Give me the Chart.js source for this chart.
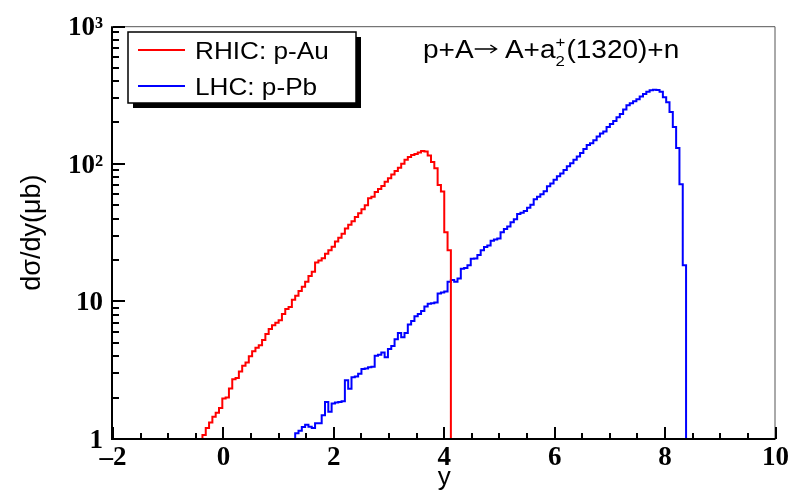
<!DOCTYPE html>
<html lang="en">
<head>
    <meta charset="UTF-8">
    <title>p+A → A+a2(1320)+n rapidity distribution</title>
    <script src="https://cdn.jsdelivr.net/npm/chart.js"></script>
    <style>
        body { margin: 0; background: #fff; }
        .chart-container { position: relative; width: 792px; height: 501px; }
    </style>
</head>
<body>
<div class="chart-container"><canvas id="rapidityChart"></canvas></div>
<script>
    // histogram binning (0.06 wide bins from -2 to 10)
    const binWidth = 0.06;
    const xRange = [-2, 10];
    const yRange = [1, 1000];

    const xTickValues = [-2, 0, 2, 4, 6, 8, 10];
    const xTickLabels = ['\u20132', '0', '2', '4', '6', '8', '10'];
    const yTickValues = [1, 10, 100, 1000];
    const yTickLabels = ['1', '10', '10\u00b2', '10\u00b3'];

    const seriesLabels = ['RHIC: p-Au', 'LHC: p-Pb'];
    const seriesColors = ['#ff0000', '#0000ff'];

    // RHIC p-Au: first non-empty bin starts at y = -0.38
    const rhicStart = -0.38;
    const rhicValues = [
        1.07, 1.2, 1.32, 1.45, 1.55, 1.68, 1.97, 2.0, 2.33, 2.72,
        2.78, 3.1, 3.4, 3.6, 4.0, 4.35, 4.6, 4.8, 5.25, 5.8,
        6.3, 6.7, 7.0, 7.3, 8.1, 8.8, 9.1, 10.3, 11.0, 11.9,
        12.8, 13.9, 15.3, 16.4, 19.2, 19.8, 20.6, 22.2, 23.5, 25.0,
        27.2, 29.0, 31.0, 33.8, 36.0, 38.2, 41.0, 43.8, 46.8, 50.0,
        56.2, 57.5, 62.5, 65.5, 69.0, 74.0, 78.5, 83.5, 88.5, 93.5,
        100, 107, 112, 116, 118, 121, 124, 123, 115, 103,
        93, 70, 63, 31.8, 23.5
    ];

    // LHC p-Pb: first non-empty bin starts at y = 1.30
    const lhcStart = 1.30;
    const lhcValues = [
        1.10, 1.15, 1.22, 1.27, 1.23, 1.20, 1.30, 1.30, 1.49, 1.86,
        1.58, 1.81, 1.84, 1.86, 1.88, 2.67, 2.32, 2.81, 2.85, 2.98,
        3.23, 3.25, 3.32, 3.35, 4.03, 4.10, 4.25, 3.92, 4.5, 4.75,
        5.3, 5.9, 5.5, 5.9, 6.8, 7.2, 7.8, 8.1, 8.5, 9.2,
        9.6, 9.7, 9.8, 11.4, 11.6, 11.8, 13.9, 14.3, 13.9, 14.7,
        17.3, 17.5, 18.3, 20.4, 20.5, 21.7, 23.5, 24.8, 25.5, 27.6,
        28.2, 28.7, 31.8, 33.6, 35.0, 37.6, 39.6, 43.1, 44.0, 45.4,
        48.0, 50.5, 55.2, 57.5, 60.1, 63.3, 68.8, 72.0, 76.5, 81.2,
        85.0, 90.0, 96.0, 101, 107, 113, 120, 128, 137, 141,
        148, 158, 166, 172, 185, 195, 205, 218, 230, 248,
        266, 275, 285, 295, 308, 322, 334, 342, 345, 344,
        334, 304, 280, 238, 185, 130, 71, 18.3
    ];

    // bin contents -> step points (each point = left edge of its bin);
    // empty bins sit on the axis minimum
    function histPoints(start, values) {
        const pts = [{x: xRange[0], y: yRange[0]}];
        values.forEach((v, i) => pts.push({x: +(start + i * binWidth).toFixed(2), y: v}));
        pts.push({x: +(start + values.length * binWidth).toFixed(2), y: yRange[0]});
        pts.push({x: xRange[1], y: yRange[0]});
        return pts;
    }

    const serif = 'Liberation Serif';
    const sans = 'Liberation Sans';

    // ROOT-like frame: thick axes with inside ticks, thin top/right border
    const framePlugin = {
        id: 'rootFrame',
        afterDatasetsDraw(chart) {
            const {ctx, chartArea: a, scales: {x, y}} = chart;
            ctx.save();
            ctx.strokeStyle = '#555';
            ctx.lineWidth = 1;
            ctx.beginPath();
            ctx.moveTo(a.left, a.top + 0.5);
            ctx.lineTo(a.right - 0.5, a.top + 0.5);
            ctx.lineTo(a.right - 0.5, a.bottom);
            ctx.stroke();

            ctx.strokeStyle = '#000';
            ctx.lineWidth = 2;
            ctx.beginPath();
            ctx.moveTo(a.left - 1, a.top);
            ctx.lineTo(a.left - 1, a.bottom);
            ctx.lineTo(a.right, a.bottom);
            ctx.stroke();

            ctx.beginPath();
            for (let v = xRange[0]; v <= xRange[1] + 1e-9; v += 0.5) {
                const px = Math.round(x.getPixelForValue(v));
                const len = Math.abs(v % 2) < 1e-9 ? 12 : 6;
                ctx.moveTo(px, a.bottom);
                ctx.lineTo(px, a.bottom - len);
            }
            for (let dec = 1; dec < yRange[1]; dec *= 10) {
                for (let m = 1; m <= 9; m++) {
                    const py = Math.round(y.getPixelForValue(m * dec));
                    const len = m === 1 ? 12 : 6;
                    ctx.moveTo(a.left, py);
                    ctx.lineTo(a.left + len, py);
                }
            }
            const pTop = Math.round(y.getPixelForValue(yRange[1]));
            ctx.moveTo(a.left, pTop + 1);
            ctx.lineTo(a.left + 12, pTop + 1);
            ctx.stroke();
            ctx.restore();
        }
    };

    // legend box with drop shadow, plus the process label
    const labelPlugin = {
        id: 'rootLabels',
        afterDraw(chart) {
            const ctx = chart.ctx;
            ctx.save();
            ctx.fillStyle = '#000';
            ctx.fillRect(133, 37, 228, 71);
            ctx.fillStyle = '#fff';
            ctx.fillRect(128, 32, 228, 71);
            ctx.strokeStyle = '#000';
            ctx.lineWidth = 1.5;
            ctx.strokeRect(128, 32, 228, 71);

            ctx.textBaseline = 'alphabetic';
            chart.data.datasets.forEach((ds, i) => {
                const yy = 50 + i * 36;
                ctx.strokeStyle = ds.borderColor;
                ctx.lineWidth = 2;
                ctx.beginPath();
                ctx.moveTo(138, yy);
                ctx.lineTo(185, yy);
                ctx.stroke();
                ctx.save();
                ctx.translate(195, yy + 9);
                ctx.scale(1.09, 1);
                ctx.fillStyle = '#000';
                ctx.font = '24px ' + sans;
                ctx.fillText(ds.label, 0, 0);
                ctx.restore();
            });

            // p+A -> A+a2+(1320)+n with sub/superscript, slightly widened like the original
            ctx.save();
            ctx.translate(423, 58);
            ctx.scale(1.12, 1);
            ctx.fillStyle = '#000';
            ctx.strokeStyle = '#000';
            let px = 0;
            const put = (txt, dy, size) => {
                ctx.font = size + 'px ' + sans;
                ctx.fillText(txt, px, dy);
                return ctx.measureText(txt).width;
            };
            px += put('p+A', 0, 25);
            // long arrow
            ctx.lineWidth = 1.3;
            ctx.beginPath();
            ctx.moveTo(px + 1, -9);
            ctx.lineTo(px + 20, -9);
            ctx.moveTo(px + 15, -13);
            ctx.lineTo(px + 20.5, -9);
            ctx.lineTo(px + 15, -5);
            ctx.stroke();
            px += 21;
            px += put(' A+a', 0, 25);
            const w1 = put('+', -11, 15);
            const w2 = put('2', 8, 15);
            px += Math.max(w1, w2) + 1;
            put('(1320)+n', 0, 25);
            ctx.restore();
            ctx.restore();
        }
    };

    const ctx = document.getElementById('rapidityChart').getContext('2d');
    new Chart(ctx, {
        type: 'line',
        data: {
            datasets: [
                {
                    label: seriesLabels[0],
                    data: histPoints(rhicStart, rhicValues),
                    borderColor: seriesColors[0],
                    borderWidth: 2,
                    stepped: 'before',
                    pointRadius: 0,
                    fill: false
                },
                {
                    label: seriesLabels[1],
                    data: histPoints(lhcStart, lhcValues),
                    borderColor: seriesColors[1],
                    borderWidth: 2,
                    stepped: 'before',
                    pointRadius: 0,
                    fill: false
                }
            ]
        },
        options: {
            responsive: true,
            maintainAspectRatio: false,
            animation: false,
            layout: { padding: { top: 22, right: 14, bottom: 0, left: 0 } },
            plugins: {
                legend: { display: false },
                tooltip: { enabled: false }
            },
            scales: {
                x: {
                    type: 'linear',
                    min: xRange[0],
                    max: xRange[1],
                    afterBuildTicks: s => { s.ticks = xTickValues.map(v => ({value: v})); },
                    afterFit: s => { s.height = 62; },
                    grid: { display: false, drawTicks: false },
                    border: { display: false },
                    ticks: {
                        color: '#000',
                        padding: 3,
                        maxRotation: 0,
                        font: { family: serif, weight: 'bold', size: 27 },
                        callback: v => xTickLabels[xTickValues.indexOf(v)]
                    },
                    title: {
                        display: true,
                        text: 'y',
                        color: '#000',
                        font: { family: sans, size: 26 },
                        padding: { top: 0, bottom: 8 }
                    }
                },
                y: {
                    type: 'logarithmic',
                    min: yRange[0],
                    max: yRange[1],
                    afterBuildTicks: s => { s.ticks = yTickValues.map(v => ({value: v})); },
                    afterFit: s => { s.width = 113; },
                    grid: { display: false, drawTicks: false },
                    border: { display: false },
                    ticks: {
                        color: '#000',
                        padding: 10,
                        labelOffset: 2,
                        font: { family: serif, weight: 'bold', size: 27 },
                        callback: v => yTickLabels[yTickValues.indexOf(v)]
                    },
                    title: {
                        display: true,
                        text: 'd\u03c3/dy(\u03bcb)',
                        color: '#000',
                        font: { family: sans, size: 27 },
                        padding: { top: 16, bottom: 0 }
                    }
                }
            }
        },
        plugins: [framePlugin, labelPlugin]
    });
</script>
</body>
</html>
